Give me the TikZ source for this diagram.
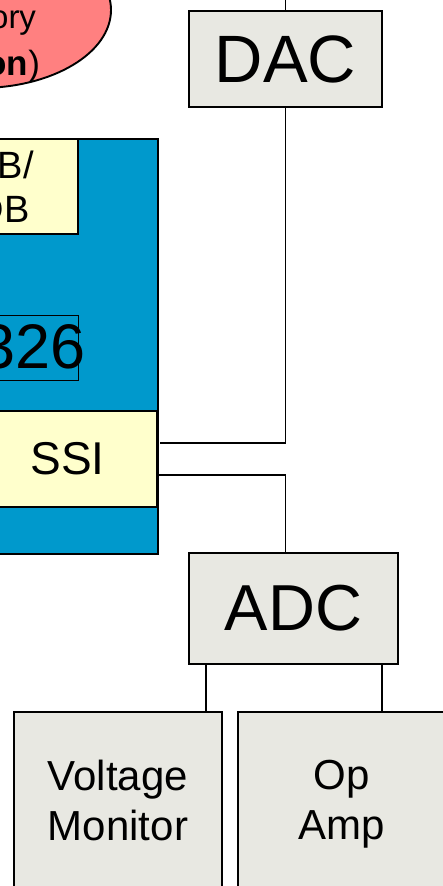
\documentclass[tikz,border=0pt]{standalone}
\usepackage{fontspec}
\setmainfont{Liberation Sans}
\usetikzlibrary{shapes.geometric}
\definecolor{chipblue}{RGB}{0,153,204}
\definecolor{portyellow}{RGB}{255,255,204}
\definecolor{partgray}{RGB}{232,232,226}
\definecolor{memred}{RGB}{255,128,128}
\newcommand{\pxfont}[2]{\fontsize{#1}{#2}\selectfont}

\begin{document}
\begin{tikzpicture}[x=1pt, y=-1pt,
  box/.style     ={draw, line width=1.9pt, inner sep=0pt, outer sep=0pt, align=center},
  partbox/.style ={box, fill=partgray},
  portbox/.style ={box, fill=portyellow},
  chipbox/.style ={box, fill=chipblue},
  membox/.style  ={ellipse, draw, line width=1.9pt, fill=memred, inner sep=0pt},
  txt/.style     ={inner sep=0pt, outer sep=0pt},
  wire/.style    ={line width=1.8pt}
]
\useasboundingbox (0,0) rectangle (443,886);
\clip (0,0) rectangle (443,886);

%%% ---- LEFT: memory and processor ------------------------------------
\node[membox, minimum width=262pt, minimum height=156pt] (mem) at (-20,10) {};
\node[txt, anchor=base east, font=\pxfont{33}{37}] (memtop) at (36,28) {ory};
\node[txt, anchor=base east, font=\pxfont{35}{37}] (membot) at (40,75) {\textbf{on})};

\node[chipbox, minimum width=218pt, minimum height=415pt] (cpu) at (49,346.5) {};
\node[portbox, minimum width=150pt, minimum height=95pt, font=\pxfont{38}{44}]
      (bus) at (3,186.5) {AB/\\DB};
\node[draw, line width=0.8pt, minimum width=138pt, minimum height=65pt, inner sep=0pt]
      (namebox) at (9,347.5) {};
\node[txt, anchor=base east, font=\pxfont{63}{63}] (cpuname) at (86,368) {326};
\node[portbox, minimum width=179pt, minimum height=96pt, font=\pxfont{46}{46}]
      (ssi) at (67.5,459) {SSI};

%%% ---- RIGHT: converters and analog parts ----------------------------
\node[partbox, minimum width=193pt, minimum height=96pt, font=\pxfont{67}{67}]
      (dac) at (285.5,59) {DAC};
\node[partbox, minimum width=209pt, minimum height=111pt, font=\pxfont{65}{65}]
      (adc) at (293.5,608.5) {ADC};
\node[partbox, minimum width=208pt, minimum height=176pt, font=\pxfont{42}{50}]
      (vmon) at (118,800) {Voltage\\Monitor};
\node[partbox, minimum width=208pt, minimum height=185pt, font=\pxfont{42}{50}]
      (opamp) at (342,804.5) {Op\\Amp};

% connectors
\coordinate (dacin) at (285.5,-10);
\coordinate (adcl) at ([xshift=17pt]adc.south west);
\coordinate (adcr) at ([xshift=-16pt]adc.south east);
\draw[wire] (dac.north) -- (dacin);
\draw[wire] (dac.south) |- ([xshift=3pt,yshift=16pt]ssi.east);
\draw[wire] ([yshift=-16pt]ssi.east) -| (dac.south |- adc.north);
\draw[wire] (adcl) -- (adcl |- vmon.north);
\draw[wire] (adcr) -- (adcr |- opamp.north);

\end{tikzpicture}
\end{document}
